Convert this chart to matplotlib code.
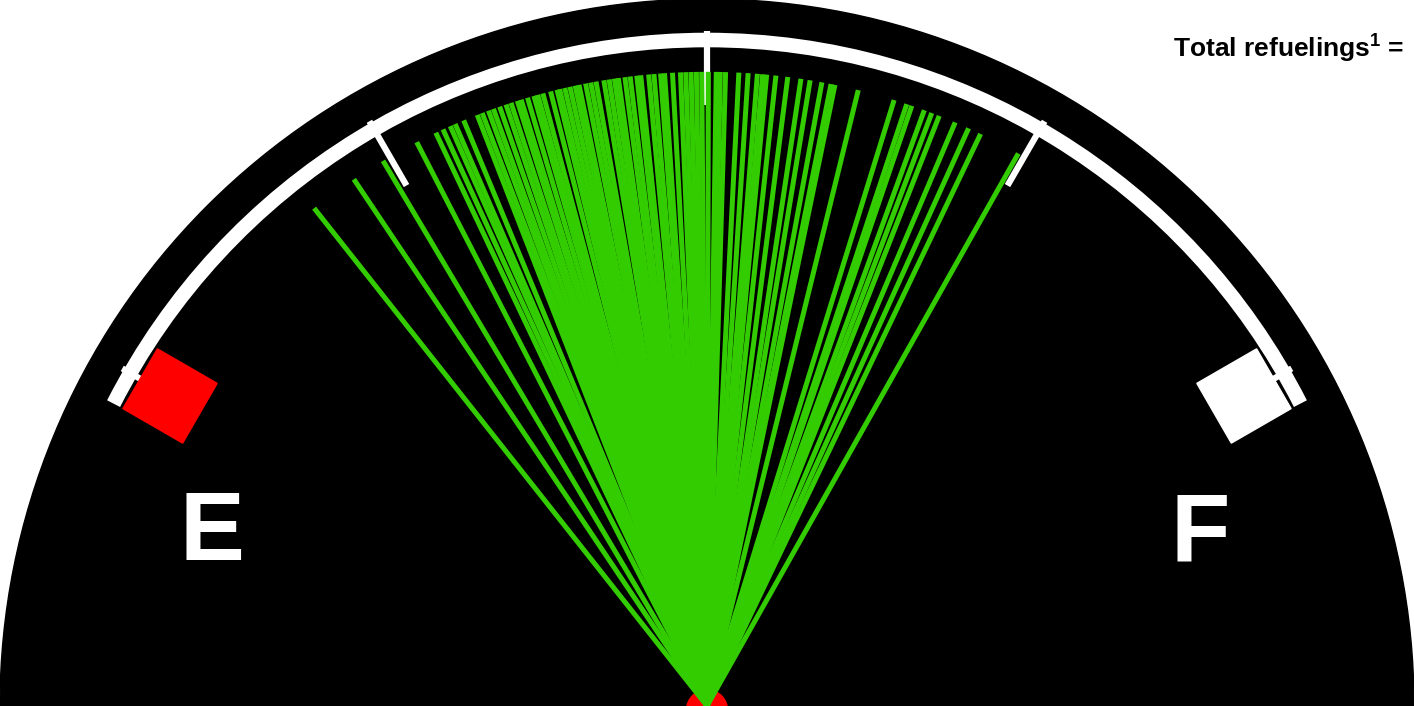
import numpy as np
import matplotlib
matplotlib.use("Agg")
import matplotlib.pyplot as plt
from matplotlib.patches import Circle, Arc, Rectangle

# fuel level (0 = E, 1 = F) shown by the gauge needle at each refueling
fuel_levels = [0.181, 0.218, 0.244, 0.273, 0.289, 0.295, 0.301, 0.305, 0.312,
               0.323, 0.327, 0.332, 0.336, 0.341, 0.346, 0.350, 0.355, 0.358,
               0.363, 0.368, 0.371, 0.375, 0.381, 0.386, 0.388, 0.392, 0.396,
               0.400, 0.403, 0.408, 0.412, 0.416, 0.422, 0.426, 0.430, 0.433,
               0.438, 0.442, 0.447, 0.450, 0.456, 0.460, 0.465, 0.468, 0.474,
               0.480, 0.484, 0.488, 0.492, 0.496, 0.501, 0.507, 0.510, 0.514,
               0.524, 0.531, 0.538, 0.542, 0.545, 0.552, 0.561, 0.571, 0.578,
               0.587, 0.594, 0.597, 0.615, 0.643, 0.653, 0.657, 0.667, 0.673,
               0.679, 0.692, 0.703, 0.713, 0.745]
tick_levels = [0, 0.25, 0.5, 0.75, 1]
gauge_labels = ["E", "F"]
title_text = r"Total refuelings$^\mathbf{1}$ ="

GREEN = "#33cc00"
FONT = "Liberation Sans"

plt.rcParams['mathtext.fontset'] = 'custom'
plt.rcParams['mathtext.rm'] = FONT
plt.rcParams['mathtext.bf'] = FONT + ':bold'


def level_to_angle(level):
    # E sits at 150 degrees, F at 30 degrees
    return np.radians(150 - 120 * level)


fig = plt.figure(figsize=(14.14, 7.06), dpi=100)
ax = fig.add_axes([0, 0, 1, 1])
ax.set_xlim(-1, 1)
ax.set_ylim(0, 706 / 707)
ax.axis('off')

# dial face
ax.add_patch(Circle((0, 0), 1.0, color='black', zorder=1))
ax.add_patch(Arc((0, 0), 2 * 0.942, 2 * 0.942, theta1=27, theta2=153,
                 lw=10.5, color='white', zorder=2))
for lvl in tick_levels:
    a = level_to_angle(lvl)
    ax.plot([0.955 * np.cos(a), 0.85 * np.cos(a)],
            [0.955 * np.sin(a), 0.85 * np.sin(a)],
            color='white', lw=4.5, solid_capstyle='butt', zorder=2)

# end markers
side = 0.0976
for lvl, col in [(0, 'red'), (1, 'white')]:
    a = level_to_angle(lvl)
    cx, cy = 0.877 * np.cos(a), 0.877 * np.sin(a)
    ax.add_patch(Rectangle((cx - side / 2, cy - side / 2), side, side,
                           angle=np.degrees(a), rotation_point='center',
                           color=col, zorder=3))

for lbl, x in zip(gauge_labels, [-0.70, 0.698]):
    ax.text(x, 0.2065, lbl, ha='center', va='baseline', color='white',
            fontsize=70, fontweight='bold', family=FONT, zorder=3)

# pivot
ax.add_patch(Circle((0, -0.006), 0.029, color='red', zorder=4))

# needles
for lvl in fuel_levels:
    a = level_to_angle(lvl)
    ax.plot([0, 0.897 * np.cos(a)], [0, 0.897 * np.sin(a)],
            color=GREEN, lw=3.6, solid_capstyle='butt', zorder=5)

fig.text(1173 / 1414, 1 - 57 / 706, title_text, ha='left', va='baseline',
         fontsize=19, fontweight='bold', family=FONT)

fig.savefig('out.png', dpi=100)
